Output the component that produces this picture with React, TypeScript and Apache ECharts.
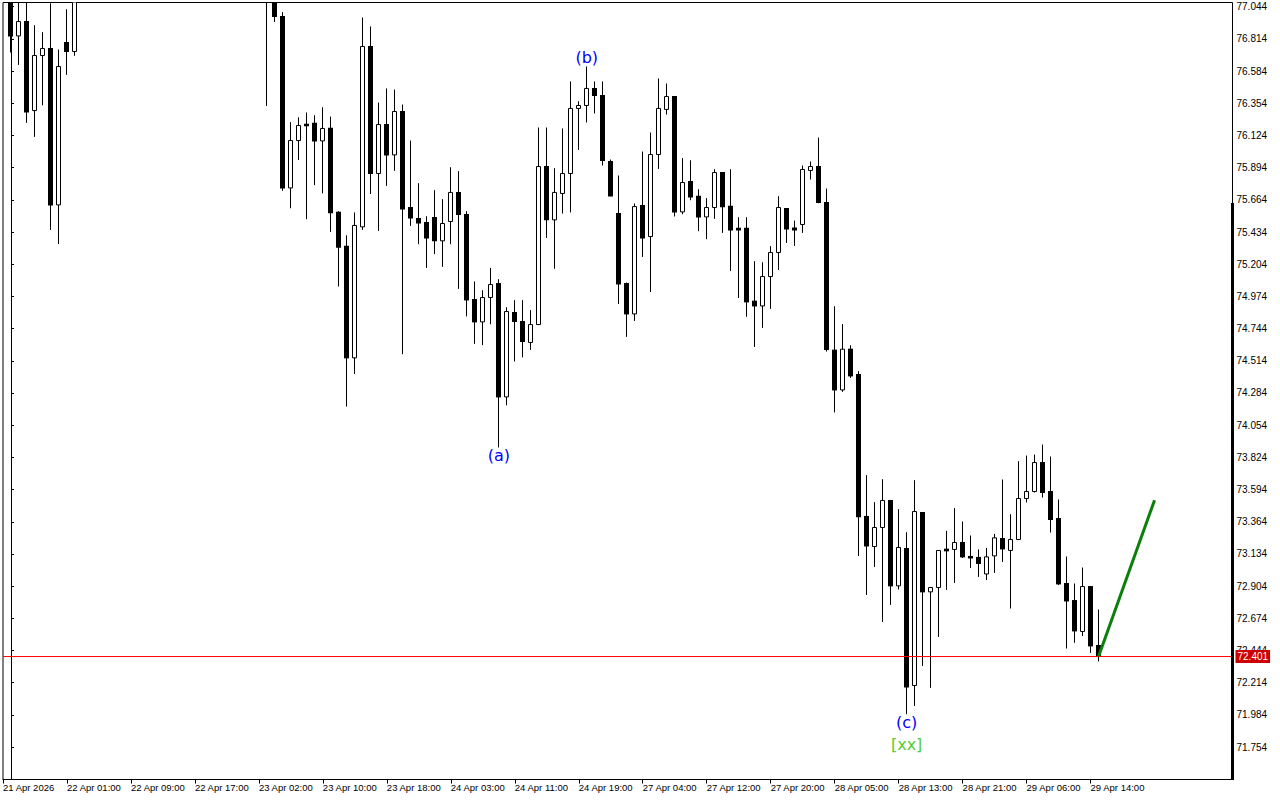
import React, { useEffect, useRef } from 'react';
import * as echarts from 'echarts';

// Hourly candles, index 0 = 21 Apr 17:00 ... index 136 = 29 Apr 15:00
// null = bar entirely above the visible price range
const opens: (number | null)[] = [
  77.15, 76.835, 76.938, 76.302, 76.695, 76.745, 75.628, 76.788, 76.724,
  null, null, null, null, null, null, null, null, null, null, null, null, null, null, null, null, null, null, null, null, null, null, null,
  77.30, 77.15, 76.974, 75.749, 76.088, 76.204, 76.212, 76.085, 76.176, 75.576,
  75.333, 74.535, 75.471, 76.760, 75.852, 76.202, 75.985, 76.295, 75.609, 75.531,
  75.502, 75.538, 75.371, 75.509, 75.717, 75.559, 74.952, 74.792, 74.966, 75.066,
  74.256, 74.859, 74.795, 74.645, 74.773, 75.902, 75.521, 75.709, 75.852, 76.317,
  76.338, 76.460, 76.410, 75.938, 75.566, 75.066, 74.849, 75.624, 75.402, 75.988,
  76.310, 76.402, 75.578, 75.795, 75.690, 75.542, 75.609, 75.859, 75.619, 75.461,
  75.461, 74.940, 74.906, 75.116, 75.288, 75.602, 75.463, 75.488, 75.874, 75.902,
  75.645, 74.590, 74.306, 74.597, 74.416, 73.402, 73.187, 73.323, 73.516, 72.906,
  73.173, 72.194, 73.430, 72.863, 72.894, 73.168, 73.166, 73.216, 73.116, 73.109,
  72.991, 73.120, 73.244, 73.159, 73.237, 73.530, 73.580, 73.787, 73.580, 73.387,
  72.923, 72.801, 72.580, 72.901, 72.480,
];
const closes: (number | null)[] = [
  76.835, 76.938, 76.292, 76.695, 76.745, 75.628, 76.617, 76.724, 77.15,
  null, null, null, null, null, null, null, null, null, null, null, null, null, null, null, null, null, null, null, null, null, null, null,
  77.15, 76.974, 75.749, 76.088, 76.195, 76.196, 76.085, 76.174, 75.571, 75.326,
  74.535, 75.481, 76.760, 75.852, 76.202, 75.985, 76.295, 75.599, 75.535, 75.499,
  75.392, 75.371, 75.495, 75.717, 75.559, 74.949, 74.792, 74.966, 75.059, 74.256,
  74.866, 74.795, 74.652, 74.773, 75.902, 75.521, 75.717, 75.852, 76.317, 76.338,
  76.460, 76.410, 75.945, 75.692, 75.063, 74.849, 75.616, 75.392, 75.988, 76.317,
  76.402, 75.578, 75.788, 75.685, 75.542, 75.609, 75.859, 75.614, 75.449, 75.449,
  74.935, 74.906, 75.116, 75.288, 75.609, 75.456, 75.449, 75.881, 75.902, 75.645,
  74.595, 74.306, 74.597, 74.406, 73.399, 73.191, 73.323, 73.516, 72.906, 73.180,
  72.184, 73.437, 72.863, 72.894, 73.159, 73.156, 73.216, 73.113, 73.106, 73.066,
  73.113, 73.249, 73.170, 73.237, 73.530, 73.580, 73.787, 73.573, 73.380, 72.920,
  72.798, 72.584, 72.901, 72.477, 72.401,
];
const lows: (number | null)[] = [
  76.717, 76.628, 76.214, 76.114, 76.340, 75.449, 75.349, 76.557, 76.693,
  null, null, null, null, null, null, null, null, null, null, null, null, null, null, null, null, null, null, null, null, null, null, null,
  76.335, 76.935, 75.728, 75.604, 75.949, 75.526, 75.769, 75.711, 75.435, 75.045,
  74.187, 74.420, 75.449, 75.706, 75.442, 75.764, 75.871, 74.561, 75.478, 75.347,
  75.178, 75.276, 75.185, 75.347, 75.028, 74.831, 74.635, 74.626, 74.775, 73.895,
  74.196, 74.509, 74.538, 74.592, 74.770, 75.392, 75.171, 75.566, 75.574, 76.021,
  76.217, 76.281, 75.909, 75.690, 74.920, 74.685, 74.799, 75.256, 75.006, 75.885,
  76.274, 75.545, 75.561, 75.661, 75.440, 75.383, 75.528, 75.428, 75.156, 74.963,
  74.828, 74.613, 74.749, 74.885, 75.163, 75.356, 75.335, 75.428, 75.809, 75.640,
  74.580, 74.145, 74.292, 74.392, 73.120, 72.841, 73.041, 72.648, 72.770, 72.880,
  71.989, 72.048, 72.334, 72.177, 72.541, 72.877, 72.927, 73.106, 73.034, 72.970,
  72.948, 72.998, 73.077, 72.744, 73.235, 73.502, 73.573, 73.537, 73.287, 72.912,
  72.458, 72.499, 72.548, 72.427, 72.366,
];
const highs: (number | null)[] = [
  77.20, 77.15, 77.12, 76.912, 76.862, 77.069, 76.738, 77.026, 77.20,
  null, null, null, null, null, null, null, null, null, null, null, null, null, null, null, null, null, null, null, null, null, null, null,
  77.35, 77.20, 77.005, 76.219, 76.254, 76.288, 76.269, 76.326, 76.259, 75.583,
  75.411, 75.574, 76.967, 76.903, 76.359, 76.460, 76.452, 76.345, 76.088, 75.783,
  75.547, 75.733, 75.669, 75.897, 75.869, 75.583, 75.081, 75.018, 75.178, 75.097,
  74.897, 74.947, 74.947, 74.876, 76.181, 76.181, 75.890, 76.174, 76.510, 76.369,
  76.617, 76.510, 76.510, 75.952, 75.838, 75.073, 75.638, 76.009, 76.145, 76.531,
  76.495, 76.405, 75.962, 75.947, 75.740, 75.676, 75.883, 75.862, 75.883, 75.540,
  75.540, 75.226, 75.218, 75.333, 75.690, 75.605, 75.516, 75.909, 75.938, 76.109,
  75.745, 74.904, 74.776, 74.625, 74.440, 73.697, 73.504, 73.668, 73.520, 73.454,
  73.289, 73.661, 73.432, 72.896, 73.159, 73.299, 73.461, 73.366, 73.266, 73.166,
  73.177, 73.277, 73.666, 73.418, 73.797, 73.837, 73.844, 73.916, 73.830, 73.523,
  73.116, 72.923, 73.037, 72.905, 72.737,
];

const yTicks = [
  77.044, 76.814, 76.584, 76.354, 76.124, 75.894, 75.664, 75.434, 75.204, 74.974,
  74.744, 74.514, 74.284, 74.054, 73.824, 73.594, 73.364, 73.134, 72.904, 72.674,
  72.444, 72.214, 71.984, 71.754,
];
const xTickIndex = [-1, 7, 15, 23, 31, 39, 47, 55, 63, 71, 79, 87, 95, 103, 111, 119, 127, 135];
const xTickLabels = [
  '21 Apr 2026', '22 Apr 01:00', '22 Apr 09:00', '22 Apr 17:00', '23 Apr 02:00', '23 Apr 10:00',
  '23 Apr 18:00', '24 Apr 03:00', '24 Apr 11:00', '24 Apr 19:00', '27 Apr 04:00', '27 Apr 12:00',
  '27 Apr 20:00', '28 Apr 05:00', '28 Apr 13:00', '28 Apr 21:00', '29 Apr 06:00', '29 Apr 14:00',
];
const currentPrice = 72.401;
const xMin = -1;
const xMax = 152.75;
const projectionIdx = [136, 143];
const projectionPrice = [72.401, 73.518];
const waveIdx = [61, 72, 112];
const wavePrice = [73.895, 76.617, 71.989];
const waveText = ['(a)', '(b)', '(c)'];
const waveSub = ['', '', '[xx]'];
const waveBelow = [1, 0, 1];

const FONT = 'Liberation Sans, Arial, sans-serif';
const WAVE_FONT = '16px "DejaVu Sans", Verdana, sans-serif';

export default function App() {
  const ref = useRef<HTMLDivElement>(null);
  useEffect(() => {
    if (!ref.current) return;
    const chart = echarts.init(ref.current, null, { renderer: 'svg' });
    const candleData: number[][] = [];
    opens.forEach((o, i) => {
      if (o == null) return;
      candleData.push([i, o, closes[i] as number, lows[i] as number, highs[i] as number]);
    });
    const waveData = waveIdx.map((ix, k) => [ix, wavePrice[k], k]);

    const yMax = 77.044 + 4.2 / 139.96;
    const yMin = yMax - 777 / 139.96;

    chart.setOption({
      animation: false,
      backgroundColor: '#ffffff',
      grid: {
        left: 2.5, top: 2.5, right: 47.5, bottom: 20.5,
        show: true, borderColor: '#000', borderWidth: 1, backgroundColor: '#fff',
      },
      xAxis: {
        type: 'value',
        min: xMin,
        max: xMax,
        axisLine: { show: true, onZero: false, lineStyle: { color: '#000', width: 1 } },
        axisTick: { show: true, length: 4, customValues: xTickIndex, lineStyle: { color: '#000' } },
        axisLabel: {
          show: true,
          customValues: xTickIndex,
          formatter: (v: number) => {
            const k = xTickIndex.indexOf(Math.round(v));
            return k >= 0 ? xTickLabels[k] : '';
          },
          align: 'left',
          margin: 3,
          color: '#000',
          fontSize: 9.5,
          fontFamily: FONT,
          hideOverlap: false,
          showMinLabel: true,
          showMaxLabel: true,
        },
        splitLine: { show: false },
      },
      yAxis: {
        type: 'value',
        position: 'right',
        min: yMin,
        max: yMax,
        axisLine: { show: true, lineStyle: { color: '#000', width: 1 } },
        axisTick: { show: true, length: 3, customValues: yTicks, lineStyle: { color: '#000' } },
        axisLabel: {
          show: true,
          customValues: yTicks,
          formatter: (v: number) => v.toFixed(3),
          margin: 4,
          color: '#000',
          fontSize: 10,
          fontFamily: FONT,
          hideOverlap: false,
        },
        splitLine: { show: false },
      },
      graphic: [
        { type: 'rect', shape: { x: 1231, y: 203, width: 3, height: 577 }, style: { fill: '#000' }, z: 100 },
      ],
      series: [
        {
          type: 'custom',
          clip: true,
          data: candleData,
          encode: { x: 0, y: [1, 2, 3, 4] },
          renderItem: (params: any, api: any) => {
            const x = api.value(0);
            const o = api.value(1), c = api.value(2), l = api.value(3), h = api.value(4);
            const pO = api.coord([x, o]);
            const pC = api.coord([x, c]);
            const pL = api.coord([x, l]);
            const pH = api.coord([x, h]);
            const cx = Math.round(pO[0] - 0.5) + 0.5;
            const up = c > o;
            const top = Math.min(pO[1], pC[1]);
            let bot = Math.max(pO[1], pC[1]);
            if (bot - top < 1.5) bot = top + 1.5;
            return {
              type: 'group',
              children: [
                { type: 'line', shape: { x1: cx, y1: pH[1], x2: cx, y2: pL[1] }, style: { stroke: '#000', lineWidth: 1 } },
                up
                  ? { type: 'rect', shape: { x: cx - 2, y: top, width: 4, height: bot - top }, style: { fill: '#fff', stroke: '#000', lineWidth: 1 } }
                  : { type: 'rect', shape: { x: cx - 2.5, y: top - 0.5, width: 5, height: bot - top + 1 }, style: { fill: '#000' } },
              ],
            };
          },
          z: 2,
        },
        {
          type: 'line',
          data: [[xMin, currentPrice], [xMax, currentPrice]],
          symbol: 'none',
          color: '#ff0000',
          lineStyle: { color: '#ff0000', width: 1 },
          z: 3,
          endLabel: {
            show: true,
            distance: 3,
            formatter: currentPrice.toFixed(3),
            color: '#fff',
            backgroundColor: '#cc0000',
            padding: [2, 2, 1, 2],
            fontSize: 10,
            fontFamily: FONT,
          },
        },
        {
          type: 'line',
          data: projectionIdx.map((ix, k) => [ix, projectionPrice[k]]),
          symbol: 'none',
          color: '#0a800a',
          lineStyle: { color: '#0a800a', width: 3 },
          z: 5,
        },
        {
          type: 'custom',
          data: waveData,
          encode: { x: 0, y: 1 },
          z: 6,
          renderItem: (params: any, api: any) => {
            const k = api.value(2);
            const p = api.coord([api.value(0), api.value(1)]);
            const below = waveBelow[k] === 1;
            const children: any[] = [
              {
                type: 'text',
                x: p[0],
                y: below ? p[1] : p[1] - 1,
                style: {
                  text: waveText[k],
                  fill: '#0000ff',
                  font: WAVE_FONT,
                  align: 'center',
                  verticalAlign: below ? 'top' : 'bottom',
                },
              },
            ];
            if (waveSub[k]) {
              children.push({
                type: 'text',
                x: p[0],
                y: p[1] + 22,
                style: {
                  text: waveSub[k],
                  fill: '#55cc33',
                  font: WAVE_FONT,
                  align: 'center',
                  verticalAlign: 'top',
                },
              });
            }
            return { type: 'group', children };
          },
        },
      ],
    });
    return () => chart.dispose();
  }, []);
  return (
    <div
      ref={ref}
      style={{ position: 'fixed', left: 0, top: 0, width: 1280, height: 800, background: '#fff' }}
    />
  );
}
